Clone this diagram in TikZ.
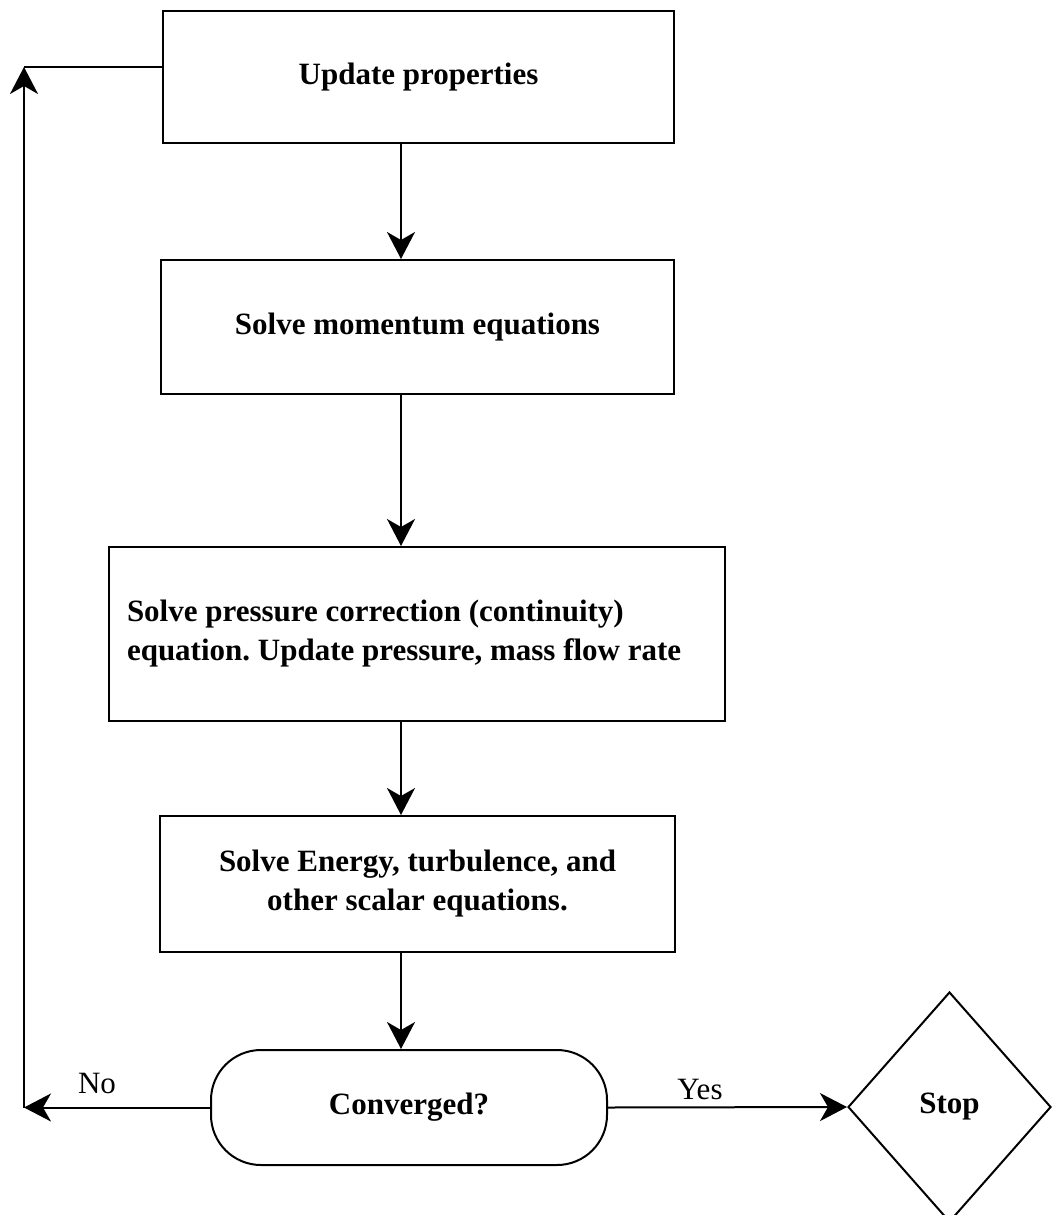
\documentclass[tikz,border=0pt]{standalone}
\usepackage{fontspec}
\setmainfont{Liberation Serif}
\frenchspacing
\usetikzlibrary{shapes.geometric,arrows.meta}
\tikzstyle{box}=[draw, line width=1pt, inner sep=0pt, align=center, font=\fontsize{15.5}{19.5}\selectfont\bfseries]
\tikzstyle{answer}=[font=\fontsize{15.5}{19.5}\selectfont]
\tikzstyle{flow}=[line width=1pt, -{Stealth[length=13.5pt, width=14pt, inset=4pt]}]

\begin{document}
\begin{tikzpicture}[x=0.5pt, y=-0.5pt, line width=1pt]
\useasboundingbox (0,0) rectangle (1051,1215);
% Steps
    \node[box, minimum width=255.5pt, minimum height=66pt] (upd) at (418.5,77) {Update properties};
    \node[box, minimum width=256.5pt, minimum height=67pt] (mom) at (417.5,327) {Solve momentum equations};
    \node[box, minimum width=308pt, minimum height=87pt, text width=290pt, inner xsep=9pt, align=flush left] (pres) at (417,634)
        {Solve pressure correction (continuity)\\equation. Update pressure, mass flow rate};
    \node[box, minimum width=257.5pt, minimum height=68pt] (energy) at (417.5,884)
        {Solve Energy, turbulence, and\\other scalar equations.};
% Test and end
    \node[box, rounded corners=25pt, minimum width=198pt, minimum height=57.5pt] (conv) at (409,1107.5) {Converged?};
    \node[box, diamond, minimum width=101.5pt, minimum height=115pt] (stop) at (949.5,1107) {Stop};
    \node[answer] (no) at (97,1083) {No};
    \node[answer] (yes) at (700,1089) {Yes};
% Arrows
    \coordinate (axis) at (401,0);
    \coordinate (back) at (24,1107.5);
    \coordinate (turn) at (24,67);
    \draw[flow] (upd.south -| axis) -- (mom.north -| axis);
    \draw[flow] (mom.south -| axis) -- (pres.north -| axis);
    \draw[flow] (pres.south -| axis) -- (energy.north -| axis);
    \draw[flow] (energy.south -| axis) -- (conv.north -| axis);
    \draw[flow] (conv.east) -- (stop.west);
    \draw[flow] (conv.west) -- (back);
    \draw[flow] (back) -- (turn);
    \draw (upd.west |- turn) -- (turn);
\end{tikzpicture}
\end{document}
